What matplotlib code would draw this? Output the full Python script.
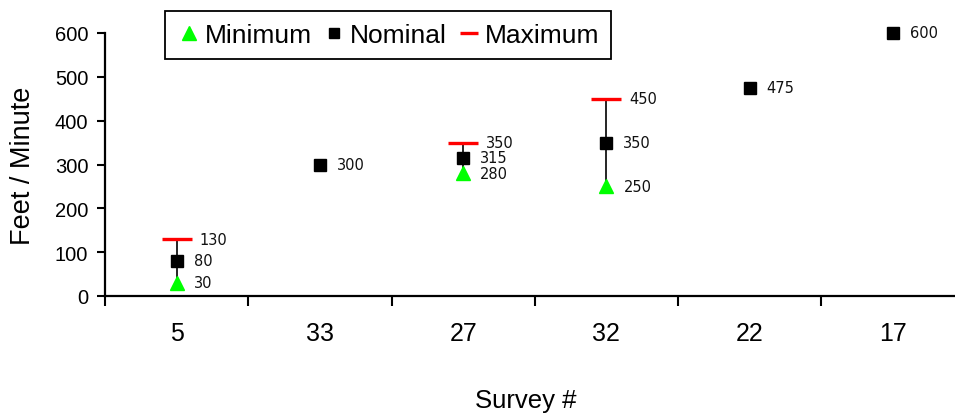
import matplotlib
matplotlib.use("Agg")
import matplotlib.pyplot as plt
from matplotlib.lines import Line2D
import numpy as np

plt.rcParams['font.family'] = ['Liberation Sans', 'DejaVu Sans']

categories = ["5", "33", "27", "32", "22", "17"]
nominal = [80, 300, 315, 350, 475, 600]
minimum = [30, None, 280, 250, None, None]
maximum = [130, None, 350, 450, None, None]

fig = plt.figure(figsize=(9.55, 4.14), dpi=100)
W, H = 955, 414
x0, x1 = 105, 964.6
y0, y1 = 297, 34
ax = fig.add_axes([x0 / W, 1 - y0 / H, (x1 - x0) / W, (y0 - y1) / H])

xs = np.arange(len(categories))
rng_idx = [i for i in range(len(categories)) if minimum[i] is not None]
mins = [minimum[i] for i in rng_idx]
maxs = [maximum[i] for i in rng_idx]

ax.vlines(rng_idx, mins, maxs, color='black', lw=1.2, zorder=2)
ax.plot(rng_idx, maxs, linestyle='none', marker='_', markersize=22, mew=2.4,
        color='#ff0000', zorder=3, clip_on=False)
ax.plot(xs, nominal, linestyle='none', marker='s', markersize=8,
        color='black', zorder=4, clip_on=False)
ax.plot(rng_idx, mins, linestyle='none', marker='^', markersize=10,
        color='#00ff00', zorder=4, clip_on=False)

lab_kw = dict(fontsize=10.5, va='center', ha='left', color='#111111',
              family=['DejaVu Sans'])
for i, v in enumerate(nominal):
    ax.annotate(str(v), (i, v), xytext=(17, 0), textcoords='offset pixels', **lab_kw)
for i, v in zip(rng_idx, mins):
    ax.annotate(str(v), (i, v), xytext=(17, 0), textcoords='offset pixels', **lab_kw)
for i, v in zip(rng_idx, maxs):
    ax.annotate(str(v), (i, v), xytext=(23, 0), textcoords='offset pixels', **lab_kw)

ax.set_xlim(-0.5, len(categories) - 0.5)
ax.set_ylim(0, 600)
ax.set_yticks(np.arange(0, 601, 100))
ax.tick_params(axis='y', labelsize=14.5, length=6, width=1.5, pad=6, direction='out')

ax.set_xticks(xs)
ax.set_xticklabels(categories)
ax.set_xticks(np.arange(-0.5, len(categories)), minor=True)
ax.tick_params(axis='x', which='major', length=0, labelsize=18, pad=18)
ax.tick_params(axis='x', which='minor', length=7, width=1.5, direction='out')

for s in ['top', 'right']:
    ax.spines[s].set_visible(False)
for s in ['left', 'bottom']:
    ax.spines[s].set_linewidth(1.6)

ax.set_xlabel("Survey #", fontsize=18.5, va='center')
ax.xaxis.set_label_coords((526 - x0) / (x1 - x0), (y0 - 401) / (y0 - y1))
ax.set_ylabel("Feet / Minute", fontsize=19.5, va='center')
ax.yaxis.set_label_coords((23 - x0) / (x1 - x0), 0.5)

handles = [
    Line2D([], [], linestyle='none', marker='^', markersize=10, color='#00ff00'),
    Line2D([], [], linestyle='none', marker='s', markersize=7, color='black'),
    Line2D([], [], linestyle='none', marker='_', markersize=13, mew=2.4, color='#ff0000'),
]
leg = fig.legend(handles, ["Minimum", "Nominal", "Maximum"], loc='upper left',
                 bbox_to_anchor=(165 / W, 1 - 12 / H), ncol=3, fontsize=19,
                 frameon=True, fancybox=False, edgecolor='black', framealpha=1,
                 handlelength=0.9, handletextpad=0.15, columnspacing=0.4,
                 borderpad=0.45, borderaxespad=0)
leg.get_frame().set_linewidth(1.3)

fig.savefig("out.png", dpi=100)
